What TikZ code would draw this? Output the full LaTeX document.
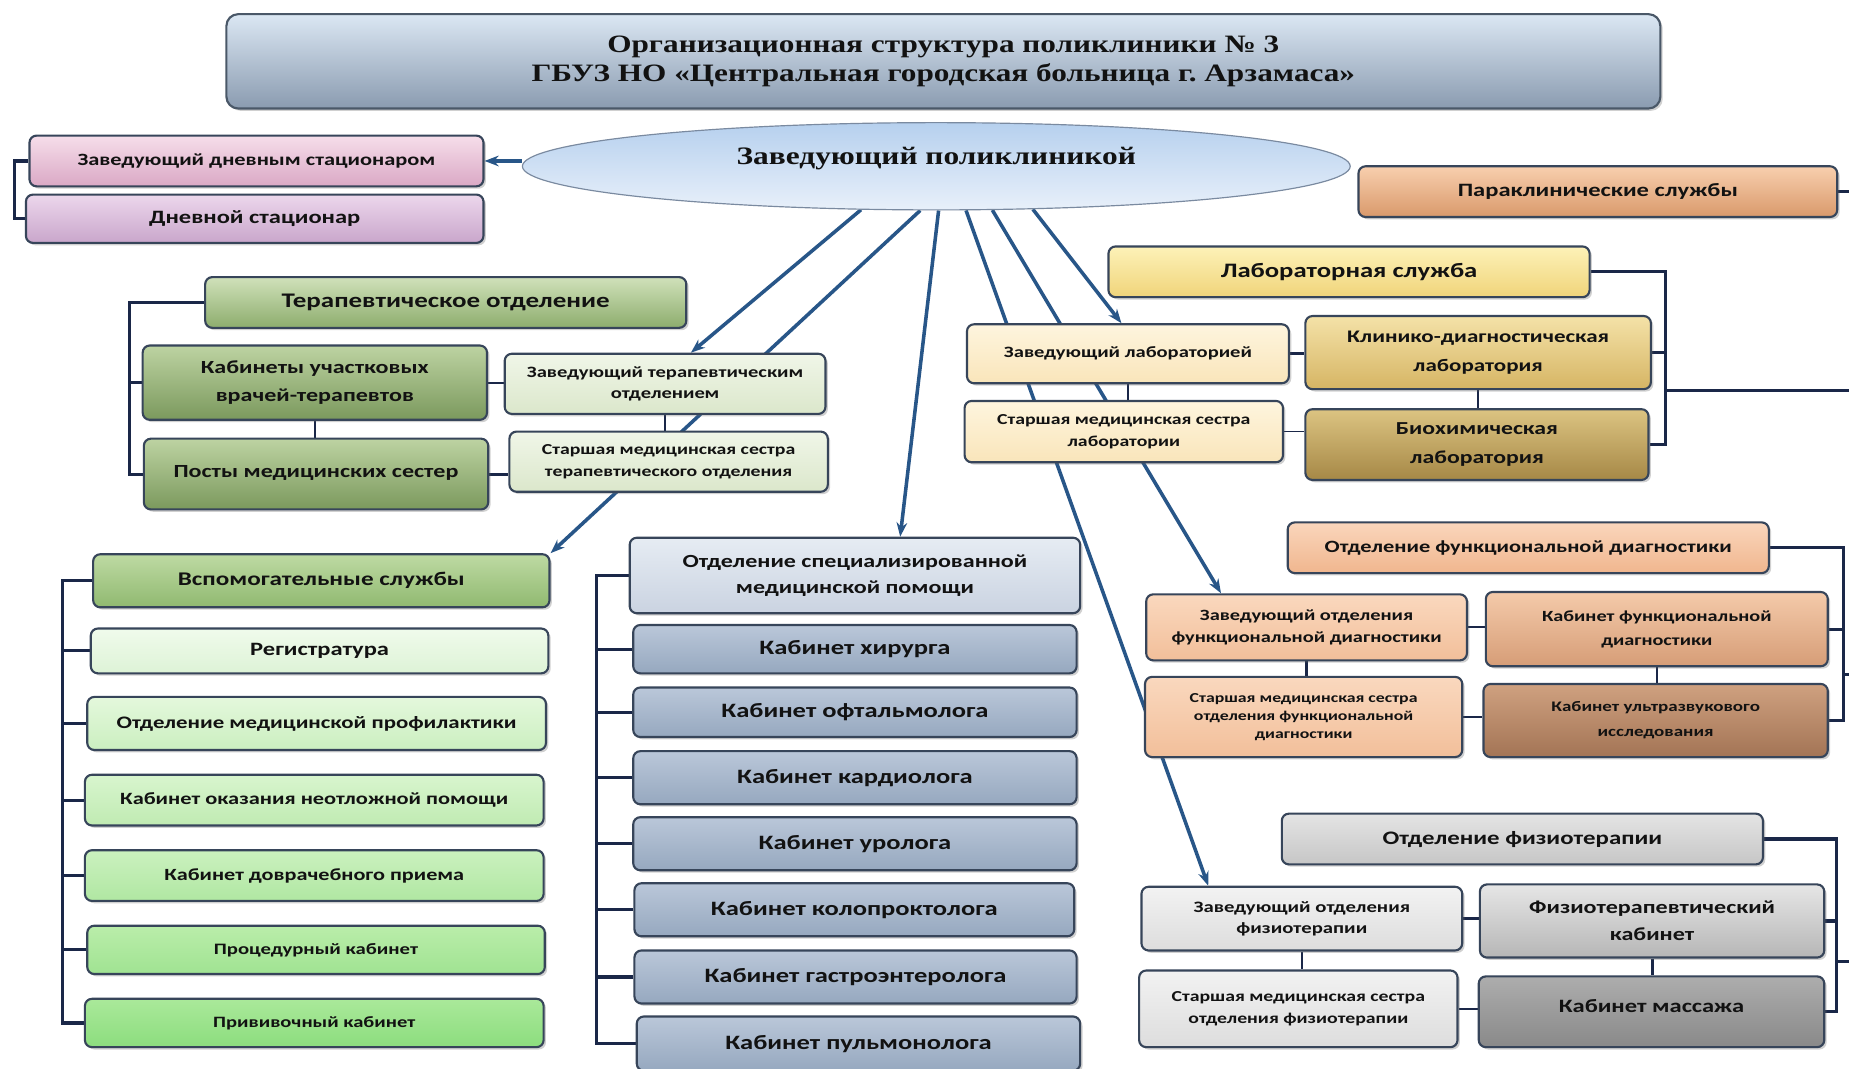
\documentclass[tikz,border=0pt]{standalone}
\usepackage{fontspec}
\usetikzlibrary{shapes.geometric,arrows.meta,shadows,calc}
\newfontfamily\cb{Carlito}[FakeStretch=1.3]
\newfontfamily\tr{Liberation Serif}[FakeStretch=1.25]
\newcommand\fz[2]{\fontsize{#1}{#2}\selectfont}
\newcommand\mkcol[2]{\definecolor{#1}{HTML}{#2}}

\mkcol{boxline}{37455A}
\mkcol{busc}{1A2748}
\mkcol{arrc}{285688}
\mkcol{txt}{121212}
\mkcol{titT}{DBE7F3}\mkcol{titB}{8A9BB0}\mkcol{titL}{4A5868}
\mkcol{headL}{7A8AA0}\mkcol{headT}{B6D0EE}\mkcol{headB}{E8F0FA}
\mkcol{dzT}{F6DEEA}\mkcol{dzB}{DAA8C5}
\mkcol{dsT}{ECD7EC}\mkcol{dsB}{C9A6CB}
\mkcol{pkT}{F8CFAE}\mkcol{pkB}{D9996B}
\mkcol{lsT}{FDF2B8}\mkcol{lsB}{F0D47A}
\mkcol{crT}{FEF5DE}\mkcol{crB}{F9E5BA}
\mkcol{kdT}{F4E2A8}\mkcol{kdB}{D6B564}
\mkcol{bhT}{DCC482}\mkcol{bhB}{A68846}
\mkcol{fdT}{FAD6BC}\mkcol{fdB}{F0B68E}
\mkcol{pcT}{FAD8BE}\mkcol{pcB}{F2BF9A}
\mkcol{kfT}{F4CAAA}\mkcol{kfB}{D69D77}
\mkcol{uzT}{CFA180}\mkcol{uzB}{A37455}
\mkcol{ftT}{E4E4E4}\mkcol{ftB}{C6C6C6}
\mkcol{lgT}{F2F2F2}\mkcol{lgB}{DDDDDD}
\mkcol{fkT}{E6E6E6}\mkcol{fkB}{B6B6B6}
\mkcol{kmT}{ADADAD}\mkcol{kmB}{898989}
\mkcol{toT}{D0E1BA}\mkcol{toB}{8DAD6D}
\mkcol{gnT}{BDD3A2}\mkcol{gnB}{7B995D}
\mkcol{ltT}{F0F6E8}\mkcol{ltB}{DBE7CB}
\mkcol{vsT}{BEDAA3}\mkcol{vsB}{90B970}
\mkcol{rgT}{F0FBEC}\mkcol{rgB}{DDF3D6}
\mkcol{mpT}{E4F8DC}\mkcol{mpB}{CBEFC0}
\mkcol{npT}{D8F5CE}\mkcol{npB}{C0EBB2}
\mkcol{dvT}{CBF1BF}\mkcol{dvB}{B0E7A2}
\mkcol{prT}{BAEDAA}\mkcol{prB}{A0E392}
\mkcol{pvT}{AAE99A}\mkcol{pvB}{8CDD7E}
\mkcol{osT}{E6ECF3}\mkcol{osB}{CAD3E1}
\mkcol{kbT}{BAC7D9}\mkcol{kbB}{96A8BF}

\pgfdeclarelayer{bg}
\pgfsetlayers{bg,main}

\tikzset{
  box/.style={draw=boxline, line width=1.8pt, rounded corners=6pt, align=center,
    inner sep=2pt, text=txt,
    drop shadow={shadow xshift=2pt, shadow yshift=-2pt, opacity=0.3, fill=black!60}},
  fs/.style 2 args={font=\cb\bfseries\fz{#1}{#2}},
  shade/.style 2 args={top color=#1, bottom color=#2},
  sz/.style 2 args={minimum width=#1, minimum height=#2},
  bus/.style={draw=busc, line width=2.6pt},
  link/.style={draw=busc, line width=1.5pt},
  arr/.style={draw=arrc, line width=3pt, -{Stealth[length=12pt,width=9pt]}},
}

\begin{document}
\begin{tikzpicture}[x=1pt, y=-1pt]
\useasboundingbox (0,0) rectangle (1568,906);

% guide coordinates for the bracket buses and the right edge
\coordinate (edgeR) at (1568,0);
\coordinate (dayBus) at (12,0);
\coordinate (terBus) at (110,0);
\coordinate (auxBus) at (53,0);
\coordinate (specBus) at (506,0);
\coordinate (labBus) at (1412,0);
\coordinate (fdBus) at (1563,0);
\coordinate (ftBus) at (1557,0);
\coordinate (labOut) at (1412,331);
\coordinate (fdOut) at (1563,572);
\coordinate (ftOut) at (1557,815);

% ---------- header ----------
\node[box, sz={1216pt}{80pt}, shade={titT}{titB}, draw=titL, rounded corners=10pt,
  font=\tr\bfseries\fz{21.2}{27}]
  (title) at (800,52)
  {\raisebox{-2pt}{Организационная структура поликлиники №~3}\\ГБУЗ НО «Центральная городская больница г.~Арзамаса»};

\node[ellipse, draw=headL, line width=1pt, sz={702pt}{74pt}, inner sep=0pt,
  top color=headT, bottom color=headB, text=txt, font=\tr\bfseries\fz{21.3}{26}]
  (head) at (794,141) {\raisebox{17pt}{Заведующий поликлиникой}};

% ---------- day hospital ----------
\node[box, sz={385pt}{43pt}, shade={dzT}{dzB}, fs={14.6}{19}] (dz) at (217.5,136.5)
  {Заведующий дневным стационаром};
\node[box, sz={388pt}{41pt}, shade={dsT}{dsB}, fs={16}{19}] (ds) at (216,185.5)
  {Дневной стационар};

% ---------- paraclinical services ----------
\node[box, sz={406pt}{43pt}, shade={pkT}{pkB}, fs={16}{19}] (pk) at (1355,162.5)
  {Параклинические службы};

\node[box, sz={408pt}{43pt}, shade={lsT}{lsB}, fs={17.4}{20}] (ls) at (1144,230.5)
  {Лабораторная служба};
\node[box, sz={273pt}{50pt}, shade={crT}{crB}, fs={13.4}{17}] (zl) at (956.5,300)
  {Заведующий лабораторией};
\node[box, sz={270pt}{52pt}, shade={crT}{crB}, fs={12.9}{18}] (sl) at (953,366)
  {Старшая медицинская сестра\\лаборатории};
\node[box, sz={293pt}{62pt}, shade={kdT}{kdB}, fs={15}{25}] (kd) at (1253.5,299)
  {Клинико-диагностическая\\лаборатория};
\node[box, sz={291pt}{60pt}, shade={bhT}{bhB}, fs={15.5}{24}] (bh) at (1252.5,377)
  {Биохимическая\\лаборатория};

\node[box, sz={408pt}{43pt}, shade={fdT}{fdB}, fs={14.6}{19}] (fd) at (1296,464.5)
  {Отделение функциональной диагностики};
\node[box, sz={272pt}{56pt}, shade={pcT}{pcB}, fs={13.3}{19}] (zf) at (1108,532)
  {Заведующий отделения\\функциональной диагностики};
\node[box, sz={269pt}{68pt}, shade={pcT}{pcB}, fs={11.6}{15.5}] (sf) at (1105.5,608)
  {Старшая медицинская сестра\\отделения функциональной\\диагностики};
\node[box, sz={290pt}{63pt}, shade={kfT}{kfB}, fs={13.2}{20}] (kf) at (1405,533.5)
  {Кабинет функциональной\\диагностики};
\node[box, sz={292pt}{62pt}, shade={uzT}{uzB}, fs={12.4}{21}] (uz) at (1404,611)
  {Кабинет ультразвукового\\исследования};

\node[box, sz={408pt}{43pt}, shade={ftT}{ftB}, fs={16.2}{19}] (ft) at (1291,711.5)
  {Отделение физиотерапии};
\node[box, sz={272pt}{54pt}, shade={lgT}{lgB}, fs={13.5}{18}] (zfz) at (1104,779)
  {Заведующий отделения\\физиотерапии};
\node[box, sz={270pt}{65pt}, shade={lgT}{lgB}, fs={12.9}{18}] (sfz) at (1101,855.5)
  {Старшая медицинская сестра\\отделения физиотерапии};
\node[box, sz={292pt}{62pt}, shade={fkT}{fkB}, fs={15.7}{23}] (fk) at (1401,781)
  {Физиотерапевтический\\кабинет};
\node[box, sz={293pt}{60pt}, shade={kmT}{kmB}, fs={16}{19}] (km) at (1400.5,858)
  {\raisebox{9pt}{Кабинет массажа}};

% ---------- therapy department ----------
\node[box, sz={408pt}{43pt}, shade={toT}{toB}, fs={17.6}{19}] (to) at (378,256.5)
  {Терапевтическое отделение};
\node[box, sz={292pt}{63pt}, shade={gnT}{gnB}, fs={15.7}{24}] (ku) at (267,324.5)
  {Кабинеты участковых\\врачей-терапевтов};
\node[box, sz={292pt}{60pt}, shade={gnT}{gnB}, fs={15.7}{19}] (pm) at (268,402)
  {\raisebox{5pt}{Посты медицинских сестер}};
\node[box, sz={272pt}{51pt}, shade={ltT}{ltB}, fs={13.4}{18}] (zt) at (564,325.5)
  {Заведующий терапевтическим\\отделением};
\node[box, sz={270pt}{51pt}, shade={ltT}{ltB}, fs={12.9}{18}] (st) at (567,391.5)
  {Старшая медицинская сестра\\терапевтического отделения};

% ---------- auxiliary services ----------
\node[box, sz={387pt}{45pt}, shade={vsT}{vsB}, fs={16.4}{19}] (vs) at (272.5,492.5)
  {Вспомогательные службы};
\node[box, sz={388pt}{38pt}, shade={rgT}{rgB}, fs={16}{18}] (rg) at (271,552)
  {Регистратура};
\node[box, sz={389pt}{45pt}, shade={mpT}{mpB}, fs={14.9}{18}] (mp) at (268.5,613.5)
  {Отделение медицинской профилактики};
\node[box, sz={389pt}{43pt}, shade={npT}{npB}, fs={14.6}{18}] (np) at (266.5,678.5)
  {Кабинет оказания неотложной помощи};
\node[box, sz={389pt}{43pt}, shade={dvT}{dvB}, fs={14.5}{18}] (dv) at (266.5,742.5)
  {Кабинет доврачебного приема};
\node[box, sz={388pt}{41pt}, shade={prT}{prB}, fs={13.5}{18}] (pr) at (268,805.5)
  {Процедурный кабинет};
\node[box, sz={389pt}{41pt}, shade={pvT}{pvB}, fs={13.4}{18}] (pv) at (266.5,867.5)
  {Прививочный кабинет};

% ---------- specialised care ----------
\node[box, sz={382pt}{64pt}, shade={osT}{osB}, fs={15.7}{22}] (os) at (725,488)
  {Отделение специализированной\\медицинской помощи};
\node[box, sz={376pt}{41pt}, shade={kbT}{kbB}, fs={17.3}{19}] (k1) at (725,550.5)
  {Кабинет хирурга};
\node[box, sz={376pt}{42pt}, shade={kbT}{kbB}, fs={17.3}{19}] (k2) at (725,604)
  {Кабинет офтальмолога};
\node[box, sz={376pt}{45pt}, shade={kbT}{kbB}, fs={17.3}{19}] (k3) at (725,659.5)
  {Кабинет кардиолога};
\node[box, sz={376pt}{45pt}, shade={kbT}{kbB}, fs={17.3}{19}] (k4) at (725,715.5)
  {Кабинет уролога};
\node[box, sz={373pt}{45pt}, shade={kbT}{kbB}, fs={17.3}{19}] (k5) at (724.5,771.5)
  {Кабинет колопроктолога};
\node[box, sz={375pt}{45pt}, shade={kbT}{kbB}, fs={17.3}{19}] (k6) at (725.5,828.5)
  {Кабинет гастроэнтеролога};
\node[box, sz={376pt}{46pt}, shade={kbT}{kbB}, fs={17.3}{19}] (k7) at (728,885)
  {Кабинет пульмонолога};

% ---------- connectors, kept behind the boxes ----------
\begin{pgfonlayer}{bg}
  \fill[white] (0,0) rectangle (1568,906);

  % arrows leaving the head of the polyclinic
  \draw[arr] (head.west |- dz.east) -- (dz.east);
  \draw[arr] (head.210) -- ($(zt.north west)!0.58!(zt.north east)$);
  \draw[arr] (head.250) -- (vs.north east);
  \draw[arr] (head.273) -- ($(os.north west)!0.6!(os.north east)$);
  \draw[arr] (head.304) -- ($(zfz.north west)!0.21!(zfz.north east)$);
  \draw[arr] (head.322) -- ($(zf.north west)!0.235!(zf.north east)$);
  \draw[arr] (head.336) -- ($(zl.north west)!0.48!(zl.north east)$);

  % day hospital
  \draw[bus] (dz.west) -- (dz.west -| dayBus) -- (ds.west -| dayBus) -- (ds.west);

  % paraclinical services
  \draw[bus] (pk.east) -- (pk.east -| edgeR);

  % laboratory service
  \draw[bus] (ls.east) -- (ls.east -| labBus) -- (bh.east -| labBus) -- (bh.east);
  \draw[bus] (kd.east) -- (kd.east -| labBus);
  \draw[bus] (labOut) -- (labOut -| edgeR);
  \draw[bus] (zl.east) -- (zl.east -| kd.west);
  \draw[link] (zl.south) -- (zl.south |- sl.north);
  \draw[link] (sl.east) -- (sl.east -| bh.west);
  \draw[link] (kd.south) -- (kd.south |- bh.north);

  % functional diagnostics
  \draw[bus] (fd.east) -- (fd.east -| fdBus) -- (uz.east -| fdBus) -- (uz.east);
  \draw[bus] (kf.east) -- (kf.east -| fdBus);
  \draw[bus] (fdOut) -- (fdOut -| edgeR);
  \draw[link] (zf.east) -- (zf.east -| kf.west);
  \draw[bus] (zf.south) -- (zf.south |- sf.north);
  \draw[link] (sf.east) -- (sf.east -| uz.west);
  \draw[link] (kf.south) -- (kf.south |- uz.north);

  % physiotherapy
  \draw[bus] (ft.east) -- (ft.east -| ftBus) -- (km.east -| ftBus) -- (km.east);
  \draw[bus] (fk.east) -- (fk.east -| ftBus);
  \draw[bus] (ftOut) -- (ftOut -| edgeR);
  \draw[bus] (zfz.east) -- (zfz.east -| fk.west);
  \draw[link] (zfz.south) -- (zfz.south |- sfz.north);
  \draw[link] (sfz.east) -- (sfz.east -| km.west);
  \draw[bus] (fk.south) -- (fk.south |- km.north);

  % therapy department
  \draw[bus] (to.west) -- (to.west -| terBus) -- (pm.west -| terBus) -- (pm.west);
  \draw[bus] (ku.west) -- (ku.west -| terBus);
  \draw[link] (ku.east) -- (ku.east -| zt.west);
  \draw[link] (ku.south) -- (ku.south |- pm.north);
  \draw[link] (zt.south) -- (zt.south |- st.north);
  \draw[bus] (pm.east) -- (pm.east -| st.west);

  % auxiliary services
  \draw[bus] (vs.west) -- (vs.west -| auxBus) -- (pv.west -| auxBus) -- (pv.west);
  \foreach \n in {rg,mp,np,dv,pr}
    \draw[bus] (\n.west) -- (\n.west -| auxBus);

  % specialised care
  \draw[bus] (os.west) -- (os.west -| specBus) -- (k7.west -| specBus) -- (k7.west);
  \foreach \n in {k1,k2,k3,k4,k5,k6}
    \draw[bus] (\n.west) -- (\n.west -| specBus);
\end{pgfonlayer}
\end{tikzpicture}
\end{document}
